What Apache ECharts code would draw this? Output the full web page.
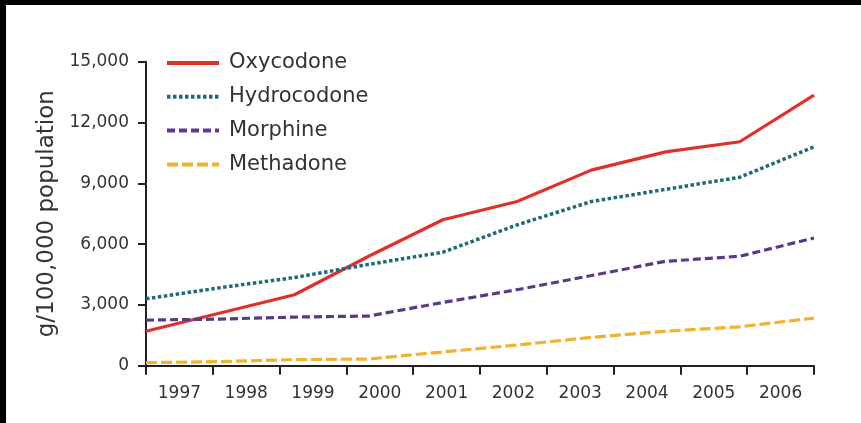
<!DOCTYPE html>
<html>
<head>
<meta charset="utf-8">
<script src="https://cdn.jsdelivr.net/npm/echarts@6/dist/echarts.min.js"></script>
<style>
html,body{margin:0;padding:0;background:#fff;}
#chart{width:861px;height:423px;}
</style>
</head>
<body>
<div id="chart"></div>
<script>
const years = ['1997','1998','1999','2000','2001','2002','2003','2004','2005','2006'];
const oxycodone   = [1700, 2600, 3500, 5400, 7200, 8100, 9650, 10550, 11050, 13350];
const hydrocodone = [3300, 3850, 4350, 5000, 5600, 6950, 8100, 8700, 9300, 10800];
const morphine    = [2250, 2300, 2400, 2450, 3120, 3750, 4450, 5150, 5400, 6300];
const methadone   = [150, 200, 300, 330, 680, 1020, 1400, 1700, 1920, 2350];
const yTicks = [0, 3000, 6000, 9000, 12000, 15000];

const chart = echarts.init(document.getElementById('chart'), null, {renderer:'canvas'});
const font = 'DejaVu Sans';
const axisColor = '#231f20';
const textColor = '#333333';

function mk(name, data, color, type, w){
  return {
    name: name, type: 'line', data: data, xAxisIndex: 1, yAxisIndex: 0,
    symbol: 'none', showSymbol: false, smooth: false, animation: false,
    lineStyle: {color: color, width: w, type: type, cap: 'butt'},
    itemStyle: {color: color}
  };
}

chart.setOption({
  animation: false,
  backgroundColor: '#ffffff',
  graphic: [
    {type:'rect', left:0, top:0, shape:{width:861, height:5}, style:{fill:'#000'}, z:100},
    {type:'rect', left:0, top:0, shape:{width:6, height:423}, style:{fill:'#000'}, z:100}
  ],
  grid: {left:146, right:47, top:61.7, bottom:57.3, containLabel:false},
  legend: {
    orient: 'vertical', left: 165, top: 52.5, padding: 0,
    itemWidth: 52, itemHeight: 14, itemGap: 12.8,
    itemStyle: {opacity: 0},
    lineStyle: {width: 4},
    textStyle: {fontFamily: font, fontSize: 21, color: textColor, padding:[0,0,0,5]},
    data: ['Oxycodone','Hydrocodone','Morphine','Methadone']
  },
  xAxis: [
    {
      type: 'category', data: years, boundaryGap: true,
      axisLine: {show:true, lineStyle:{color: axisColor, width: 2}},
      axisTick: {show:true, length: 9, lineStyle:{color: axisColor, width: 2}},
      axisLabel: {fontFamily: font, fontSize: 17, color: textColor, margin: 19, interval: 0},
      splitLine: {show:false}
    },
    {
      type: 'category', data: years, boundaryGap: false, show: false,
      axisLine:{show:false}, axisTick:{show:false}, axisLabel:{show:false}
    }
  ],
  yAxis: {
    type: 'value', min: yTicks[0], max: yTicks[yTicks.length-1], interval: 3000,
    name: 'g/100,000 population', nameLocation: 'middle', nameGap: 84, nameRotate: 90,
    nameTextStyle: {fontFamily: font, fontSize: 23, color: textColor},
    axisLine: {show:true, lineStyle:{color: axisColor, width: 2}},
    axisTick: {show:true, length: 8, lineStyle:{color: axisColor, width: 2}},
    axisLabel: {fontFamily: font, fontSize: 17, color: textColor, margin: 17,
      formatter: function(v){ return v.toLocaleString('en-US'); }},
    splitLine: {show:false}
  },
  series: [
    mk('Oxycodone', oxycodone, '#e0302b', 'solid', 3.2),
    mk('Hydrocodone', hydrocodone, '#1c6a7a', [3.5, 2.5], 3.5),
    mk('Morphine', morphine, '#5a3a88', [8, 4], 3.2),
    mk('Methadone', methadone, '#f2b22c', [11, 4], 3.2)
  ]
});
</script>
</body>
</html>
